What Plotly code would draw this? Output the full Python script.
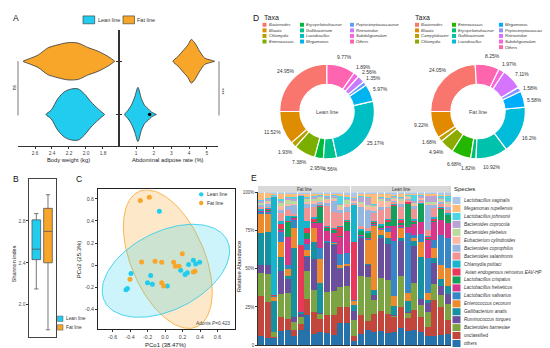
import numpy as np
import plotly.graph_objects as go

W, H = 550, 348
def px(x): return x / W
def py(y): return 1 - y / H

FONT = "Liberation Sans, Arial, Helvetica, sans-serif"
CYAN = "#22CCEE"
ORANGE = "#F7A62A"
DARK = "#333333"

# ---------------- Panel A data (violin outlines: value grid + half-width) ----------------
groups = ["Lean line", "Fat line"]
bw_fat_grid = [2.74, 2.68, 2.56, 2.45, 2.33, 2.21, 2.09, 1.98, 1.86, 1.74, 1.66]
bw_fat_dens = [0.0, 0.04, 0.12, 0.25, 0.31, 0.35, 0.34, 0.26, 0.19, 0.09, 0.0]
bw_lean_grid = [2.47, 2.41, 2.33, 2.25, 2.17, 2.09, 2.02, 1.94, 1.86, 1.78]
bw_lean_dens = [0.0, 0.08, 0.30, 0.43, 0.48, 0.48, 0.39, 0.235, 0.11, 0.0]
abd_fat_grid = [3.09, 3.37, 3.66, 3.94, 4.12, 4.31, 4.60, 4.88, 5.25, 5.45]
abd_fat_dens = [0.0, 0.09, 0.20, 0.31, 0.41, 0.35, 0.185, 0.06, 0.02, 0.0]
abd_lean_grid = [0.36, 0.55, 0.73, 0.93, 1.11, 1.30, 1.49, 1.68, 1.86, 2.15]
abd_lean_dens = [0.0, 0.08, 0.17, 0.33, 0.51, 0.30, 0.17, 0.11, 0.05, 0.0]
# box stats: lower whisker, q1, median, q3, upper whisker
bw_fat_box = [1.937, 2.07, 2.176, 2.306, 2.467]
bw_lean_box = [1.82, 2.055, 2.12, 2.22, 2.408]
abd_fat_box = [3.30, 3.94, 4.18, 4.41, 4.88]
abd_lean_box = [0.55, 0.93, 1.08, 1.27, 1.68]
abd_lean_outlier = [1.77]

# ---------------- Panel B data ----------------
shannon_lean = [2.15, 2.43, 2.53, 2.81, 2.87]
shannon_fat = [1.76, 2.40, 2.70, 2.92, 3.05]

# ---------------- Panel C data ----------------
lean_pc1 = [-0.065, -0.446, -0.43, -0.389, -0.20, -0.164, -0.145, 0.027, 0.179, 0.229, 0.255, 0.27, 0.324, 0.35, 0.396]
lean_pc2 = [0.486, -0.222, -0.21, -0.074, -0.157, -0.092, -0.172, -0.187, -0.044, -0.083, -0.068, 0.006, 0.044, 0.012, 0.027]
fat_pc1 = [-0.282, -0.179, -0.267, -0.40, -0.114, -0.038, -0.038, -0.015, 0.099, 0.118, 0.16, 0.198, 0.324, 0.343]
fat_pc2 = [0.584, 0.613, 0.03, -0.127, 0.036, 0.027, -0.157, -0.187, 0.027, -0.009, -0.009, 0.104, -0.062, -0.053]
# ellipse: centre x, centre y, var x, var y, cov xy
lean_ellipse = [0.01, -0.05, 0.53, 0.176, 0.13]
fat_ellipse = [0.032, 0.055, 0.258, 0.39, -0.15]

# ---------------- Panel D data ----------------
lean_taxa = ["Bacteroides", "Blautia", "Chlamydia", "Enterococcus", "Erysipelotrichaceae", "Gallibacterium",
             "Lactobacillus", "Megamonas", "Peptostreptococcaceae", "Retroviridae", "Subdoligranulum", "Others"]
lean_pct = [24.95, 11.52, 1.93, 7.38, 2.95, 4.56, 25.17, 5.97, 1.35, 2.56, 1.89, 9.77]
lean_taxa_colors = ["#F8766D", "#DE8C00", "#B79F00", "#7CAE00", "#00BA38", "#00C08B",
                    "#00BFC4", "#00B4F0", "#619CFF", "#C77CFF", "#F564E3", "#FF64B0"]
fat_taxa = ["Bacteroides", "Blautia", "Campylobacter", "Chlamydia", "Enterococcus", "Erysipelotrichaceae",
            "Gallibacterium", "Lactobacillus", "Megamonas", "Peptostreptococcaceae", "Retroviridae",
            "Subdoligranulum", "Others"]
fat_pct = [24.05, 9.22, 1.68, 4.94, 6.68, 1.82, 10.92, 16.2, 5.58, 1.58, 7.11, 1.97, 8.25]
fat_taxa_colors = ["#F8766D", "#E18A00", "#BE9C00", "#8CAB00", "#24B700", "#00BE70", "#00C1AB",
                   "#00BBDA", "#00ACFC", "#8B93FF", "#D575FE", "#F962DD", "#FF65AC"]

# ---------------- Panel E data ----------------
species = ["Lactobacillus vaginalis", "Megamonas rupellensis", "Lactobacillus johnsonii", "Bacteroides coprocola",
           "Bacteroides plebeius", "Eubacterium cylindroides", "Bacteroides coprophilus", "Bacteroides salanitronis",
           "Chlamydia psittaci", "Avian endogenous retrovirus EAV-HP", "Lactobacillus crispatus",
           "Lactobacillus helveticus", "Lactobacillus salivarius", "Enterococcus cecorum", "Gallibacterium anatis",
           "Ruminococcus torques", "Bacteroides barnesiae", "unclassified", "others"]
species_colors = ["#AEC7E8", "#FFBB78", "#4DD5E6", "#B9A3D3", "#B9DB9E", "#FFB8A3", "#96B6E0", "#F09494",
                  "#17B4CB", "#E8385C", "#12A05C", "#D6378C", "#3587C7", "#EE8A2E", "#17909F", "#6B4F9C",
                  "#7DA443", "#C3463D", "#2672AB"]
# each sample lists abundances bottom -> top (others ... Lactobacillus vaginalis)
fat_samples = [
    [5.8, 27, 15, 5, 21.5, 12.3, 1.5, 0.5, 0.5, 0, 1, 1, 1.5, 0.5, 1, 1.5, 0.5, 4.5, 0.5],
    [4.5, 24, 18.3, 6.3, 21.6, 12.3, 1, 1, 0.5, 0.5, 0.5, 1, 2, 1, 1, 1, 0.5, 3.5, 0.5],
    [4.7, 0.5, 3.3, 0, 20.8, 2.8, 0.5, 0, 0, 0.5, 65, 0, 0.5, 0, 0, 0.5, 0.5, 0.5, 1],
    [9, 8.7, 15, 15, 8.6, 9.7, 6.5, 1, 0.5, 3.2, 2, 5, 2, 3, 2, 1, 1.5, 3, 1],
    [10, 7.5, 17.2, 9.7, 2, 4.3, 3, 18.3, 10, 1, 3, 4, 3, 1, 3, 1, 1, 2, 1],
    [5.8, 4.3, 5.4, 3.2, 46, 12.9, 6, 1, 0.5, 0, 1, 1, 6, 1, 2, 1.5, 1, 2, 1],
    [10, 4.3, 4.3, 2, 1.5, 0, 0, 0.5, 0, 44, 32.8, 0, 0, 0, 0, 0.5, 0, 0.5, 1],
    [20, 10, 19, 9, 0.5, 4, 4, 3, 4.3, 3.2, 4.3, 8.6, 3, 1, 2, 1, 0.5, 2, 1],
    [7, 14, 14, 19.3, 10.8, 8.6, 0.5, 3.2, 0.5, 2, 1, 6, 2, 2, 1.5, 1, 0.5, 1.5, 1],
    [9, 8.6, 3.2, 0.5, 20.4, 16, 7.5, 17.2, 10.8, 0.5, 0.5, 1, 1, 0.5, 3, 0.5, 0.5, 1, 1],
    [8, 11.8, 15, 32.2, 0.5, 0.5, 0.5, 6.4, 2, 0.5, 1, 12.9, 2, 2, 1, 1, 0.5, 1.5, 1],
    [7, 13, 16, 31, 0.5, 0.5, 0.5, 6.4, 2, 0.5, 0.5, 10.8, 7.5, 1, 1, 1, 0.5, 1, 1],
    [14.4, 10.8, 12.9, 11.8, 0.5, 2, 7.5, 10.8, 0.5, 6.4, 0.5, 8.6, 2, 2, 1, 1, 5.4, 1, 1],
    [14.4, 10.8, 14, 12.9, 0.5, 1, 7.5, 14, 6.4, 0.5, 0.5, 5.4, 3, 2, 3, 1, 1, 1, 2],
]
lean_samples = [
    [3, 3, 11, 6, 4, 3, 0.5, 0, 0, 38.8, 24.7, 0.5, 1, 1, 0.5, 1, 0.5, 1, 3],
    [7, 12, 24, 23.6, 0.5, 0.5, 0.5, 0.5, 2.5, 0, 1, 2, 12, 2, 1, 3, 0.5, 1.5, 1],
    [9.7, 6.4, 29, 7.5, 0.5, 16, 1, 0.5, 3, 0.5, 1, 2, 12, 2, 1, 5, 0.5, 2, 1],
    [9, 12, 9, 3.5, 3.5, 43, 1, 0.5, 0.5, 0.5, 0.5, 6, 1, 3, 0.5, 0.5, 0.5, 7, 1],
    [9.5, 12.5, 22, 26, 2, 3, 1, 0.5, 1, 0.5, 1, 9, 2, 4, 1, 1, 0.5, 2, 1],
    [8, 13, 22, 24, 4, 4, 3, 1, 3, 1, 1, 7, 1, 3, 1, 1, 0.5, 3, 1],
    [9, 10, 0.5, 0.5, 6, 6.5, 36.5, 10, 13, 1, 0.5, 1, 1, 1, 1, 0.5, 0.5, 1, 1.5],
    [11, 14, 21, 23, 2, 6.5, 1, 1, 1, 2, 1, 8, 2, 2, 1, 1, 0.5, 2, 1],
    [9, 9, 3, 1, 7, 5, 40, 4, 15, 1, 0.5, 1, 1, 1, 0.5, 0.5, 0.5, 0.5, 1],
    [10, 14, 18, 25, 3, 2, 2, 8, 1, 1, 1, 7, 2, 1, 1, 1, 4, 1, 1],
    [9, 10, 8, 4, 28, 10, 5, 8, 12, 0.5, 0.5, 1, 1, 1, 0.5, 1, 0.5, 1, 1],
    [6, 6, 10, 6, 2, 4, 23, 12, 1, 1, 1, 4, 16, 1, 1, 4, 0.5, 1, 1],
    [6, 24, 10, 14, 3, 7, 5, 12, 1, 1, 1, 6, 2, 1, 1, 4, 0.5, 1, 1],
    [7, 18, 8, 6, 5, 9, 20, 10, 7, 0.5, 1, 2, 1, 1, 1, 1, 1, 1, 1.5],
    [7.5, 8.6, 10.8, 6.4, 5.4, 11.8, 19.4, 9.7, 5.3, 0.5, 1, 2, 2, 2, 1, 1, 3, 1, 1.5],
]

fig = go.Figure()
annotations = []
shapes = []


def T(x, y, text, size=5, color=DARK, xanchor="center", yanchor="middle", angle=0):
    annotations.append(dict(x=px(x), y=py(y), xref="paper", yref="paper", text=text, showarrow=False,
                            font=dict(family=FONT, size=size, color=color), xanchor=xanchor,
                            yanchor=yanchor, textangle=angle, borderpad=0))


def R(x0, y0, x1, y1, fill, line=None, lw=0):
    shapes.append(dict(type="rect", xref="paper", yref="paper", x0=px(x0), x1=px(x1), y0=py(y1), y1=py(y0),
                       fillcolor=fill, line=dict(color=line or fill, width=lw), layer="above"))


def L(x0, y0, x1, y1, color="#555555", lw=0.8):
    shapes.append(dict(type="line", xref="paper", yref="paper", x0=px(x0), x1=px(x1), y0=py(y0), y1=py(y1),
                       line=dict(color=color, width=lw)))


# ---------------- Panel A ----------------
def violin(grid, dens, center, color, xa, ya):
    xs = list(grid) + list(grid[::-1])
    ys = [center + d for d in dens] + [center - d for d in dens[::-1]]
    fig.add_trace(go.Scatter(x=xs, y=ys, fill="toself", fillcolor=color, mode="lines",
                             line=dict(color=DARK, width=0.8, shape="spline", smoothing=0.8),
                             xaxis=xa, yaxis=ya, hoverinfo="skip"))


def hbox(stats, pos, xa, ya):
    lo, q1, med, q3, hi = stats
    fig.add_trace(go.Box(orientation="h", y=[pos], q1=[q1], median=[med], q3=[q3], lowerfence=[lo],
                         upperfence=[hi], width=0.18, fillcolor="white", line=dict(color=DARK, width=0.8),
                         boxpoints=False, xaxis=xa, yaxis=ya, hoverinfo="skip"))


pos = {"Lean line": 0, "Fat line": 1}
violin(bw_fat_grid, bw_fat_dens, pos["Fat line"], ORANGE, "x", "y")
violin(bw_lean_grid, bw_lean_dens, pos["Lean line"], CYAN, "x", "y")
hbox(bw_fat_box, pos["Fat line"], "x", "y")
hbox(bw_lean_box, pos["Lean line"], "x", "y")
violin(abd_fat_grid, abd_fat_dens, pos["Fat line"], ORANGE, "x2", "y2")
violin(abd_lean_grid, abd_lean_dens, pos["Lean line"], CYAN, "x2", "y2")
hbox(abd_fat_box, pos["Fat line"], "x2", "y2")
hbox(abd_lean_box, pos["Lean line"], "x2", "y2")
fig.add_trace(go.Scatter(x=abd_lean_outlier, y=[pos["Lean line"]], mode="markers",
                         marker=dict(color="black", size=3.5), xaxis="x2", yaxis="y2", hoverinfo="skip"))

# ---------------- Panel B ----------------
for i, (g, st, col) in enumerate([("Lean line", shannon_lean, CYAN), ("Fat line", shannon_fat, ORANGE)]):
    lo, q1, med, q3, hi = st
    fig.add_trace(go.Box(x=[i], q1=[q1], median=[med], q3=[q3], lowerfence=[lo], upperfence=[hi],
                         width=0.74, fillcolor=col, line=dict(color="#555555", width=0.8), boxpoints=False,
                         xaxis="x3", yaxis="y3", hoverinfo="skip"))

# ---------------- Panel C ----------------
def ellipse_xy(params, n=140):
    cx, cy, sxx, syy, sxy = params
    t = np.linspace(0, 2 * np.pi, n)
    Lm = np.linalg.cholesky(np.array([[sxx, sxy], [sxy, syy]]))
    pts = Lm @ np.vstack([np.cos(t), np.sin(t)])
    return cx + pts[0], cy + pts[1]


for params, col, fillc in [(fat_ellipse, ORANGE, "rgba(247,166,42,0.25)"),
                           (lean_ellipse, CYAN, "rgba(34,204,238,0.22)")]:
    ex, ey = ellipse_xy(params)
    fig.add_trace(go.Scatter(x=ex, y=ey, mode="lines", fill="toself", fillcolor=fillc,
                             line=dict(color=col, width=0.8), xaxis="x4", yaxis="y4", hoverinfo="skip"))
fig.add_trace(go.Scatter(x=lean_pc1, y=lean_pc2, mode="markers", marker=dict(color=CYAN, size=5),
                         xaxis="x4", yaxis="y4", hoverinfo="skip"))
fig.add_trace(go.Scatter(x=fat_pc1, y=fat_pc2, mode="markers", marker=dict(color=ORANGE, size=5),
                         xaxis="x4", yaxis="y4", hoverinfo="skip"))

# ---------------- Panel D ----------------
R_OUT, R_LAB = 48, 58
for taxa, vals, cols, cx, name in [(lean_taxa, lean_pct, lean_taxa_colors, 319, "Lean line"),
                                   (fat_taxa, fat_pct, fat_taxa_colors, 470, "Fat line")]:
    cy = 103
    fig.add_trace(go.Pie(labels=taxa, values=vals, hole=0.573, sort=False, direction="counterclockwise",
                         rotation=-90, textinfo="none", hoverinfo="skip",
                         marker=dict(colors=cols, line=dict(color="white", width=1.2)),
                         domain=dict(x=[px(cx - R_OUT), px(cx + R_OUT)], y=[py(cy + R_OUT), py(cy - R_OUT)])))
    total = sum(vals)
    cum = 0.0
    for v in vals:
        th = 2 * np.pi * (cum + v / 2) / total
        cum += v
        T(cx - R_LAB * np.sin(th), cy - R_LAB * np.cos(th), f"{v:g}%", size=5, color="#333")
    T(cx, cy, name, size=5.5, color="#444")

# legends for D
def taxa_legend(taxa, cols, col_x, counts, title_x):
    T(title_x, 7.5, "Taxa", size=7, color="#222", xanchor="left")
    idx = 0
    for c, n in enumerate(counts):
        for r in range(n):
            yy = 15 + 5.67 * r
            R(col_x[c], yy - 2, col_x[c] + 4, yy + 2, cols[idx])
            T(col_x[c] + 5.2, yy, "<i>" + taxa[idx] + "</i>", size=4.1, color="#333", xanchor="left")
            idx += 1


taxa_legend(lean_taxa, lean_taxa_colors, [254.5, 292, 342], [4, 4, 4], 254.5)
taxa_legend(fat_taxa, fat_taxa_colors, [407, 444, 491], [4, 4, 5], 406)

# ---------------- Panel E ----------------
stack_species = species[::-1]
stack_colors = species_colors[::-1]
fat_ids = list(range(1, len(fat_samples) + 1))
lean_ids = list(range(1, len(lean_samples) + 1))
for i, sp in enumerate(stack_species):
    fig.add_trace(go.Bar(x=fat_ids, y=[s[i] for s in fat_samples], marker=dict(color=stack_colors[i], line=dict(width=0)),
                         xaxis="x5", yaxis="y5", hoverinfo="skip", name=sp))
    fig.add_trace(go.Bar(x=lean_ids, y=[s[i] for s in lean_samples], marker=dict(color=stack_colors[i], line=dict(width=0)),
                         xaxis="x6", yaxis="y6", hoverinfo="skip", name=sp))

R(250, 178.5, 342, 185, "#D9D9D9")
R(343, 178.5, 443, 185, "#D9D9D9")
T(296, 181.8, "Fat line", size=4.5, color="#333")
T(393, 181.8, "Lean line", size=4.5, color="#333")

T(445, 182, "Species", size=6, color="#222", xanchor="left")
for i, (sp, col) in enumerate(zip(species, species_colors)):
    yy = 193.3 + 8.06 * i
    R(444.5, yy - 3.6, 452.5, yy + 3.6, col)
    label = sp if sp in ("unclassified", "others") else "<i>" + sp + "</i>"
    T(455, yy, label, size=4.6, color="#333", xanchor="left")

# ---------------- annotations: panel letters, titles, legends ----------------
for lt, x, y in [("A", 7.5, 8), ("B", 7.5, 171), ("C", 70.5, 171), ("D", 247.5, 8), ("E", 245.5, 170.5)]:
    T(x, y, lt, size=8.5, color="#111")

# A legend
R(75, 6, 86.7, 14, CYAN, DARK, 0.6)
T(88.5, 10, "Lean line", size=5.5, color="#333", xanchor="left")
R(115, 6, 126.5, 14, ORANGE, DARK, 0.6)
T(128.3, 10, "Fat line", size=5.5, color="#333", xanchor="left")
T(60.3, 152, "Body weight (kg)", size=5.8, color="#222")
T(160.3, 152, "Abdominal adipose rate (%)", size=5.8, color="#222")
L(10, 52, 10, 107)
T(5.5, 79, "ns", size=5, color="#333", angle=-90)
L(211, 52, 211, 107)
T(215.8, 82, "***", size=5.5, color="#333", angle=-90)

# B
T(6, 258, "Shannon index", size=5.5, color="#222", angle=-90)
R(49.5, 310.5, 55, 316, CYAN, "#555", 0.5)
T(57, 313.3, "Lean line", size=4.8, color="#333", xanchor="left")
R(49.5, 319.3, 55, 324.8, ORANGE, "#555", 0.5)
T(57, 322, "Fat line", size=4.8, color="#333", xanchor="left")

# C
shapes.append(dict(type="circle", xref="paper", yref="paper", x0=px(191), x1=px(195.4), y0=py(189.2),
                   y1=py(184.8), fillcolor=CYAN, line=dict(width=0)))
shapes.append(dict(type="circle", xref="paper", yref="paper", x0=px(191), x1=px(195.4), y0=py(198),
                   y1=py(193.6), fillcolor=ORANGE, line=dict(width=0)))
T(198, 187, "Lean line", size=5, color="#333", xanchor="left")
T(198, 195.8, "Fat line", size=5, color="#333", xanchor="left")
T(223, 318, "Adonis <i>P</i>=0.423", size=4.8, color="#444", xanchor="right")
T(157.5, 340, "PCo1 (38.47%)", size=6, color="#222")
T(71, 253, "PCo2 (25.3%)", size=6, color="#222", angle=-90)

# E
T(231, 260, "Relative Abundance", size=5.8, color="#222", angle=-90)

# ---------------- axes ----------------
ax = dict(showgrid=False, zeroline=False, ticks="outside", ticklen=2, tickwidth=0.6, linewidth=0.7,
          linecolor=DARK, tickcolor=DARK, tickfont=dict(family=FONT, size=4.8, color="#444"), showline=True)

bw_ticks = [2.6, 2.4, 2.2, 2.0, 1.8]
abd_ticks = [1, 2, 3, 4, 5]
yA = [py(138.3), py(20)]
fig.update_layout(
    xaxis=dict(ax, domain=[px(10), px(110.7)], range=[2.8, 1.615], anchor="y", tickvals=bw_ticks,
               ticktext=[f"{v:.1f}" for v in bw_ticks]),
    yaxis=dict(ax, domain=yA, range=[-0.598, 1.593], anchor="x", side="right", tickvals=[0, 1],
               showticklabels=False),
    xaxis2=dict(ax, domain=[px(110.7), px(210)], range=[0.023, 5.63], anchor="y2", tickvals=abd_ticks),
    yaxis2=dict(ax, domain=yA, range=[-0.598, 1.593], anchor="x2", side="left", tickvals=[0, 1],
                showticklabels=False),
    xaxis3=dict(ax, domain=[px(21.3), px(47.7)], range=[-0.6, 1.66], anchor="y3", mirror=True, ticks="",
                showticklabels=False, linecolor="#444"),
    yaxis3=dict(ax, domain=[py(331.7), py(171.7)], range=[1.692, 3.198], anchor="x3", mirror=True,
                tickvals=[2.0, 2.4, 2.8], ticktext=["2.0", "2.4", "2.8"], linecolor="#444",
                tickfont=dict(family=FONT, size=5, color="#555")),
    xaxis4=dict(ax, domain=[px(90), px(227)], range=[-0.766, 0.8], anchor="y4", mirror=True,
                tickvals=[-0.6, -0.4, -0.2, 0, 0.2, 0.4, 0.6],
                ticktext=["-0.6", "-0.4", "-0.2", "0.0", "0.2", "0.4", "0.6"], linecolor="#222",
                tickfont=dict(family=FONT, size=5.3, color="#444")),
    yaxis4=dict(ax, domain=[py(324), py(182)], range=[-0.578, 0.684], anchor="x4", mirror=True,
                tickvals=[-0.4, -0.2, 0, 0.2, 0.4, 0.6], ticktext=["-0.4", "-0.2", "0", "0.2", "0.4", "0.6"],
                linecolor="#222", tickfont=dict(family=FONT, size=5.3, color="#444")),
    xaxis5=dict(ax, domain=[px(250), px(342)], range=[0.5, len(fat_samples) + 0.5], anchor="y5", ticks="",
                showticklabels=False),
    yaxis5=dict(ax, domain=[py(340), py(185)], range=[0, 100], anchor="x5", tickvals=[0, 25, 50, 75, 100],
                ticktext=["0", "25%", "50%", "75%", "100%"], tickfont=dict(family=FONT, size=4.5, color="#444")),
    xaxis6=dict(ax, domain=[px(343), px(443)], range=[0.5, len(lean_samples) + 0.5], anchor="y6", ticks="",
                showticklabels=False),
    yaxis6=dict(ax, domain=[py(340), py(185)], range=[0, 100], anchor="x6", showline=False, ticks="",
                showticklabels=False),
)

fig.update_layout(width=W, height=H, margin=dict(l=0, r=0, t=0, b=0), showlegend=False,
                  barmode="stack", barnorm="percent", bargap=0.1,
                  paper_bgcolor="white", plot_bgcolor="white",
                  font=dict(family=FONT, size=6, color="#222"),
                  annotations=annotations, shapes=shapes)

fig.write_html("out.html")
